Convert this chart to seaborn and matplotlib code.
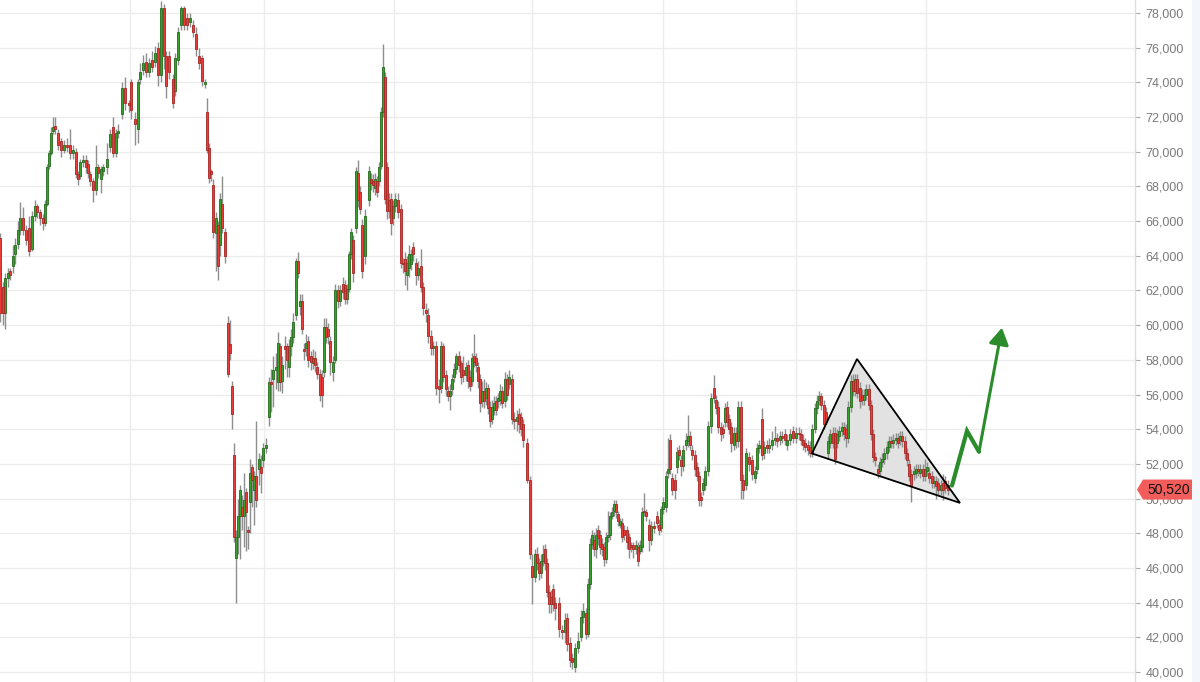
import numpy as np
import matplotlib
matplotlib.use("Agg")
import matplotlib.pyplot as plt
import matplotlib.transforms as mtransforms
from matplotlib.patches import Polygon, Rectangle
import seaborn as sns


# bar number (trading session) of each candle
day = [0, 3, 5, 8, 10, 13, 15, 18, 20, 23,
       26, 29, 32, 35, 37, 40, 43, 45, 47, 49,
       51, 53, 55, 58, 61, 64, 67, 70, 73, 76,
       78, 80, 83, 86, 88, 90, 93, 96, 98, 101,
       103, 107, 110, 113, 116, 118, 122, 125, 129, 131,
       135, 138, 140, 143, 146, 149, 152, 155, 158, 161,
       164, 166, 169, 173, 175, 178, 181, 184, 187, 190,
       193, 196, 199, 202, 205, 207, 209, 211, 213, 216,
       218, 220, 222, 225, 228, 230, 232, 234, 236, 238,
       240, 242, 244, 246, 248, 250, 252, 254, 256, 259,
       261, 263, 266, 269, 271, 273, 276, 278, 280, 282,
       285, 287, 289, 291, 293, 296, 298, 300, 302, 304,
       306, 308, 311, 313, 315, 317, 320, 322, 324, 326,
       328, 330, 333, 335, 338, 340, 343, 345, 347, 349,
       351, 353, 356, 358, 360, 362, 365, 369, 371, 373,
       375, 377, 379, 381, 383, 385, 387, 389, 391, 393,
       395, 398, 401, 403, 405, 407, 409, 411, 413, 416,
       418, 421, 423, 426, 428, 431, 433, 436, 439, 441,
       443, 446, 448, 450, 452, 454, 456, 459, 461, 463,
       466, 468, 470, 472, 474, 476, 478, 480, 482, 484,
       486, 488, 490, 492, 494, 496, 498, 500, 502, 505,
       507, 509, 512, 514, 517, 519, 521, 523, 527, 530,
       532, 535, 537, 539, 541, 543, 545, 547, 549, 551,
       553, 555, 559, 562, 565, 567, 570, 572, 575, 578,
       581, 583, 586, 588, 590, 592, 594, 596, 598, 600,
       602, 604, 606, 608, 610, 612, 614, 616, 618, 620,
       622, 624, 627, 629, 631, 633, 636, 638, 640, 642,
       644, 646, 649, 651, 654, 657, 659, 661, 663, 666,
       668, 670, 672, 675, 677, 679, 681, 683, 686, 688,
       690, 692, 695, 697, 699, 701, 703, 705, 708, 711,
       714, 716, 718, 721, 723, 725, 727, 729, 731, 734,
       736, 738, 741, 743, 746, 749, 752, 755, 757, 759,
       762, 764, 767, 769, 772, 775, 777, 780, 782, 785,
       787, 790, 793, 796, 799,
       801, 803, 805, 808, 810, 812, 815, 817, 819, 821,
       824, 826, 828, 830, 833, 835, 837, 839, 842, 844,
       846, 848, 851, 853, 855, 857, 860, 862, 864, 866,
       869, 871, 873, 875, 878, 880, 882, 884, 887, 889,
       891, 893, 896, 898, 900, 902, 905, 907, 909, 911,
       914, 916, 918, 920, 923, 925, 927, 929, 932, 934,
       936, 938, 941, 943, 945, 948]

# prices in thousands
open_k = [65.0, 62.2, 60.7, 62.7, 63.1, 63.4, 64.1, 64.7, 65.5, 66.2,
          65.5, 65.6, 64.4, 66.3, 66.9, 66.5, 66.2, 65.9, 67.0, 69.2,
          69.9, 71.2, 71.5, 71.1, 70.6, 70.1, 70.4, 70.4, 69.9, 70.0,
          68.7, 68.6, 69.4, 69.5, 69.3, 68.7, 68.3, 67.8, 69.1, 68.4,
          68.9, 69.1, 70.3, 71.4, 69.9, 71.1, 72.2, 73.7, 72.8, 74.0,
          71.9, 71.3, 74.2, 74.7, 75.2, 74.6, 75.3, 75.2, 76.0, 74.4,
          78.3, 75.5, 75.5, 74.2, 73.5, 75.3, 77.3, 78.3, 77.7, 77.5,
          77.3, 76.8, 75.5, 75.4, 73.9, 72.3, 70.2, 68.9, 68.1, 65.3,
          65.8, 64.6, 67.0, 65.4, 60.1, 58.9, 56.5, 52.5, 46.6, 47.8,
          49.0, 49.5, 49.0, 50.4, 48.2, 49.8, 51.8, 50.5, 51.3, 51.7,
          51.8, 52.2, 52.9, 54.7, 56.7, 56.9, 57.4, 56.7, 58.8, 56.8,
          58.8, 58.8, 57.6, 58.8, 59.3, 60.6, 63.7, 61.1, 61.4, 58.6,
          58.7, 59.1, 58.2, 57.8, 58.1, 57.6, 57.2, 57.0, 57.3, 59.9,
          59.8, 59.1, 57.3, 58.0, 62.0, 61.4, 62.4, 62.3, 61.5, 62.1,
          64.1, 64.9, 65.6, 68.8, 67.7, 65.8, 64.0, 67.2, 68.4, 68.3,
          67.9, 68.3, 68.3, 69.2, 72.3, 74.3, 69.1, 66.6, 67.3, 66.2,
          66.9, 67.2, 66.7, 63.6, 63.8, 62.9, 63.3, 63.5, 64.5, 63.6,
          62.9, 63.4, 62.2, 60.9, 60.6, 59.4, 58.7, 58.8, 56.5, 56.4,
          58.8, 57.1, 56.2, 55.9, 56.3, 57.0, 57.5, 58.2, 57.8, 57.4,
          57.1, 57.7, 57.0, 56.8, 58.2, 58.1, 57.6, 56.9, 55.6, 56.2,
          55.8, 56.4, 55.3, 54.6, 55.1, 55.6, 55.6, 55.7, 56.2, 55.6,
          56.9, 56.6, 56.9, 54.6, 54.5, 54.9, 54.7, 54.3, 53.2, 51.1,
          46.1, 45.5, 46.8, 46.3, 45.7, 46.4, 47.1, 46.3, 44.6, 43.9,
          44.8, 44.0, 44.0, 42.4, 42.3, 43.1, 41.7, 40.8, 40.3, 41.4,
          42.0, 43.2, 43.4, 42.2, 45.1, 47.4, 47.6, 47.1, 48.2, 47.9,
          47.4, 47.2, 46.5, 47.8, 47.9, 49.0, 49.3, 49.7, 49.1, 48.5,
          48.6, 48.2, 48.2, 47.8, 47.3, 47.3, 47.1, 47.2, 47.0, 47.2,
          49.3, 49.2, 48.5, 47.6, 48.4, 49.0, 48.5, 48.3, 49.4, 49.5,
          51.5, 53.4, 51.2, 51.1, 51.8, 52.8, 52.2, 51.9, 53.1, 53.3,
          53.6, 52.8, 52.5, 51.8, 51.3, 50.1, 50.5, 50.8, 51.6, 54.2,
          56.4, 55.7, 55.3, 54.1, 54.0, 54.4, 55.3, 54.6, 54.1, 53.1,
          53.8, 53.3, 55.3, 51.1, 50.8, 52.4, 52.2, 51.2, 51.7, 52.9,
          54.6, 52.6, 53.1, 52.9, 53.1, 53.4, 53.5, 53.4, 53.6, 53.7,
          53.1, 53.4, 53.9, 53.5, 53.8,
          53.7, 53.4, 53.2, 53.1, 53.0, 52.6, 54.0, 55.2, 55.7, 55.9,
          55.4, 55.0, 52.6, 53.2, 53.8, 53.8, 53.2, 53.6, 53.9, 54.1,
          54.0, 53.5, 55.3, 56.8, 56.2, 56.9, 56.4, 56.0, 55.7, 56.0,
          56.3, 55.4, 53.7, 52.4, 51.7, 51.6, 52.1, 52.3, 52.6, 53.0,
          53.3, 53.2, 53.4, 53.5, 53.4, 53.6, 53.3, 52.6, 52.0, 51.4,
          51.4, 51.5, 51.7, 51.5, 51.7, 51.3, 51.6, 51.5, 51.3, 50.9,
          51.0, 50.9, 50.5, 50.9, 51.0, 50.8]

close_k = [60.7, 60.7, 62.7, 63.0, 62.9, 64.0, 64.6, 65.5, 66.2, 65.5,
           64.9, 64.3, 66.3, 66.9, 66.5, 66.2, 65.9, 67.0, 69.1, 69.9,
           71.1, 71.4, 71.3, 70.4, 70.1, 70.4, 70.3, 69.9, 70.1, 68.7,
           68.4, 69.4, 69.5, 69.1, 68.8, 68.3, 67.8, 69.1, 68.8, 69.0,
           69.1, 69.6, 71.0, 69.9, 71.1, 71.2, 73.7, 72.8, 72.7, 72.4,
           71.6, 74.0, 74.6, 75.1, 74.6, 75.1, 74.9, 75.7, 74.4, 78.3,
           75.5, 73.8, 74.6, 72.8, 75.4, 76.9, 78.3, 77.3, 77.3, 77.7,
           76.9, 75.9, 75.1, 74.1, 74.0, 70.1, 68.5, 68.7, 65.4, 66.2,
           63.4, 67.3, 65.6, 64.0, 57.2, 58.4, 54.9, 47.8, 47.8, 49.0,
           50.5, 49.0, 49.9, 49.2, 48.1, 51.5, 51.1, 51.3, 49.9, 52.3,
           51.5, 52.9, 53.1, 56.7, 56.6, 57.4, 57.6, 59.0, 56.7, 57.7,
           58.6, 58.0, 58.8, 59.3, 60.2, 63.7, 63.0, 61.4, 59.8, 58.5,
           59.0, 58.0, 57.9, 58.1, 57.7, 57.2, 56.0, 56.0, 59.9, 59.3,
           59.4, 57.9, 57.9, 62.0, 61.4, 62.0, 61.9, 61.5, 62.1, 64.1,
           65.4, 63.0, 68.9, 67.2, 66.7, 63.1, 66.3, 68.9, 68.2, 68.1,
           68.4, 67.7, 69.1, 72.3, 74.9, 67.3, 66.6, 67.2, 65.9, 66.9,
           67.3, 66.5, 63.6, 63.5, 63.1, 63.6, 64.1, 64.1, 64.1, 62.9,
           63.3, 62.2, 61.0, 60.7, 59.4, 58.7, 58.8, 56.4, 56.3, 58.8,
           57.0, 56.3, 55.9, 56.2, 56.9, 57.5, 58.2, 57.7, 57.0, 57.1,
           57.6, 56.8, 56.5, 58.1, 57.9, 57.7, 56.8, 55.5, 56.2, 55.6,
           56.4, 55.2, 54.5, 55.3, 55.5, 55.1, 55.8, 56.2, 55.5, 56.9,
           56.0, 57.0, 54.6, 54.5, 54.7, 54.3, 54.0, 53.4, 51.1, 46.8,
           45.5, 46.8, 46.3, 45.7, 46.4, 46.8, 46.3, 44.6, 43.9, 44.3,
           43.9, 43.7, 42.5, 42.3, 43.0, 41.6, 40.7, 40.6, 41.4, 41.8,
           43.2, 43.5, 42.2, 45.1, 47.4, 47.9, 47.1, 47.9, 47.7, 47.2,
           47.1, 46.5, 47.8, 47.9, 49.0, 49.2, 49.7, 49.2, 48.7, 48.7,
           47.8, 47.9, 47.5, 47.1, 47.2, 47.1, 47.3, 46.4, 47.3, 49.2,
           49.2, 49.0, 47.6, 48.4, 48.3, 48.6, 48.2, 49.4, 49.8, 51.3,
           51.7, 51.7, 50.5, 50.5, 52.7, 52.5, 51.9, 52.8, 53.4, 53.6,
           53.1, 52.5, 51.7, 51.3, 49.9, 49.9, 50.9, 51.6, 54.2, 55.8,
           55.8, 55.2, 54.1, 53.7, 53.8, 55.2, 54.4, 54.0, 53.2, 53.8,
           53.3, 55.3, 51.1, 50.5, 52.6, 52.0, 51.4, 51.6, 52.9, 53.1,
           52.5, 53.0, 52.9, 53.1, 53.4, 53.5, 53.3, 53.6, 53.5, 53.4,
           53.4, 53.7, 53.5, 53.8, 53.7,
           53.4, 53.1, 53.0, 52.8, 52.6, 54.0, 55.2, 55.6, 55.9, 55.4,
           54.3, 54.6, 53.3, 53.7, 53.2, 52.3, 53.7, 53.9, 54.1, 53.7,
           53.5, 55.3, 56.8, 56.2, 56.9, 56.1, 55.6, 55.7, 56.0, 56.3,
           55.4, 53.7, 52.4, 52.2, 51.5, 52.1, 52.3, 52.6, 53.0, 53.3,
           53.2, 53.4, 53.5, 53.2, 53.6, 53.3, 52.6, 52.2, 51.3, 50.7,
           51.6, 51.7, 51.6, 51.7, 51.3, 51.7, 51.8, 51.2, 50.9, 51.0,
           50.7, 50.5, 50.8, 50.5, 50.6, 50.52]

high_k = [65.3, 62.5, 63.0, 63.3, 63.3, 64.6, 65.0, 66.0, 67.1, 66.8,
          65.8, 66.3, 66.6, 67.2, 67.0, 66.7, 66.4, 67.2, 69.3, 70.1,
          71.4, 72.0, 72.0, 71.3, 70.8, 70.7, 70.8, 71.3, 70.4, 70.2,
          68.9, 69.6, 69.8, 69.8, 69.5, 68.9, 68.5, 70.4, 69.3, 69.2,
          69.3, 70.5, 71.3, 72.0, 71.3, 71.6, 74.0, 74.3, 73.0, 74.2,
          72.3, 74.2, 75.1, 75.6, 75.7, 75.4, 75.8, 76.1, 76.3, 78.7,
          78.5, 75.8, 75.8, 74.5, 75.7, 77.2, 78.4, 78.4, 78.0, 78.0,
          77.6, 77.2, 76.0, 75.6, 74.2, 73.1, 70.5, 69.0, 68.4, 66.5,
          66.0, 67.6, 68.6, 65.6, 60.5, 60.3, 56.8, 53.2, 48.2, 50.0,
          50.8, 50.2, 51.5, 50.6, 48.4, 52.3, 52.0, 51.6, 54.5, 52.6,
          52.5, 53.2, 53.5, 57.0, 57.5, 58.2, 58.4, 59.6, 59.0, 58.2,
          59.4, 59.0, 59.2, 59.8, 60.7, 63.9, 64.2, 61.8, 61.8, 59.0,
          59.5, 59.4, 58.5, 58.6, 58.5, 57.9, 57.5, 57.4, 60.4, 60.4,
          60.1, 59.4, 58.2, 62.4, 62.3, 62.3, 62.8, 62.6, 62.4, 64.3,
          65.6, 65.2, 69.1, 69.5, 68.0, 66.1, 66.7, 69.2, 68.8, 68.7,
          68.8, 68.6, 69.4, 72.6, 76.2, 74.6, 69.4, 67.6, 67.6, 67.2,
          67.6, 67.6, 67.0, 63.9, 64.2, 64.0, 64.6, 64.4, 64.8, 63.9,
          63.7, 64.4, 62.5, 61.3, 61.0, 59.7, 59.1, 59.1, 56.9, 59.1,
          59.0, 57.4, 56.5, 56.6, 57.2, 57.8, 58.4, 58.5, 58.0, 58.2,
          57.9, 58.0, 57.4, 58.4, 59.5, 58.4, 57.9, 57.2, 56.8, 56.9,
          56.7, 56.6, 55.6, 55.7, 55.9, 55.9, 56.1, 56.6, 56.5, 57.3,
          57.2, 57.4, 57.2, 55.0, 55.1, 55.2, 55.0, 54.6, 53.5, 51.3,
          46.8, 47.1, 47.2, 46.6, 46.8, 47.3, 47.4, 46.6, 45.0, 44.7,
          45.1, 44.3, 44.3, 42.7, 43.4, 43.4, 42.0, 41.1, 41.7, 42.3,
          43.6, 44.0, 43.7, 45.4, 47.7, 48.2, 48.1, 48.3, 48.5, 48.2,
          47.7, 47.5, 48.1, 49.3, 49.2, 49.5, 49.9, 49.9, 49.3, 48.9,
          48.9, 48.5, 48.4, 48.0, 47.5, 47.5, 47.6, 47.5, 47.6, 49.5,
          50.3, 49.4, 48.8, 48.7, 48.7, 49.3, 48.8, 49.6, 50.1, 51.6,
          53.5, 53.7, 51.5, 51.4, 53.0, 53.1, 52.5, 53.1, 53.8, 54.8,
          53.9, 53.1, 52.8, 52.1, 51.6, 50.4, 51.2, 51.9, 54.5, 56.1,
          57.1, 56.0, 55.6, 54.4, 54.3, 55.5, 55.6, 54.9, 54.4, 54.1,
          54.1, 55.6, 55.6, 51.4, 52.9, 52.7, 52.5, 51.9, 53.2, 53.4,
          55.2, 53.3, 53.4, 53.5, 53.9, 54.2, 53.8, 53.9, 53.9, 54.0,
          53.7, 54.0, 54.2, 54.1, 54.1,
          54.0, 53.7, 53.5, 53.4, 53.3, 54.3, 55.5, 56.0, 56.2, 56.1,
          55.7, 55.3, 53.6, 54.0, 54.1, 54.1, 54.0, 54.2, 54.4, 54.4,
          54.3, 55.6, 57.1, 57.2, 57.2, 57.2, 56.7, 56.3, 56.3, 56.6,
          56.6, 55.7, 54.0, 52.7, 52.0, 52.4, 52.6, 52.9, 53.3, 53.6,
          53.6, 53.7, 53.8, 53.8, 53.9, 53.9, 53.6, 52.9, 52.3, 51.7,
          51.9, 52.0, 52.0, 52.0, 52.0, 52.3, 52.1, 51.8, 51.6, 51.3,
          51.3, 51.2, 51.1, 51.4, 51.3, 51.1]

low_k = [60.2, 60.0, 59.8, 62.2, 62.6, 63.0, 63.5, 64.4, 65.2, 65.2,
         64.6, 64.0, 64.3, 66.0, 66.2, 65.8, 65.5, 65.7, 66.9, 69.0,
         69.8, 71.0, 71.0, 70.1, 69.7, 69.9, 70.0, 69.6, 69.6, 68.5,
         68.1, 68.4, 69.1, 68.8, 68.5, 68.0, 67.1, 67.5, 68.5, 67.6,
         68.6, 68.7, 70.0, 69.7, 69.7, 70.8, 71.9, 72.4, 72.3, 71.9,
         70.4, 70.5, 73.9, 74.4, 74.3, 74.3, 74.6, 74.9, 73.8, 74.0,
         74.8, 73.1, 74.2, 72.5, 73.2, 75.0, 77.0, 77.0, 77.0, 77.2,
         76.6, 75.5, 74.8, 73.8, 73.7, 69.9, 68.2, 68.3, 65.0, 63.1,
         62.6, 64.0, 65.3, 63.6, 57.0, 58.0, 54.0, 47.5, 44.0, 46.8,
         46.5, 48.2, 47.2, 47.0, 47.1, 48.0, 49.5, 48.5, 49.5, 50.8,
         50.3, 51.8, 52.6, 54.2, 55.0, 55.3, 56.3, 56.2, 56.2, 56.1,
         57.5, 57.0, 57.0, 58.2, 59.0, 60.3, 62.7, 60.6, 59.5, 58.0,
         58.2, 57.6, 57.4, 57.5, 57.3, 56.9, 55.6, 55.3, 57.0, 59.0,
         58.9, 57.1, 56.8, 57.8, 61.0, 61.1, 61.5, 61.2, 61.2, 61.9,
         63.8, 62.5, 65.3, 66.8, 66.4, 62.7, 63.5, 66.9, 67.8, 67.7,
         67.5, 67.4, 68.0, 69.0, 72.0, 67.0, 66.1, 66.2, 65.2, 65.8,
         66.5, 66.2, 63.3, 63.0, 62.3, 62.0, 62.8, 63.2, 63.7, 62.3,
         62.6, 61.9, 60.6, 60.2, 59.0, 58.3, 58.3, 56.0, 55.5, 56.1,
         56.7, 55.9, 55.6, 55.1, 56.0, 56.7, 57.2, 57.3, 56.6, 56.7,
         56.8, 56.4, 56.2, 56.5, 57.6, 57.3, 56.4, 55.0, 55.3, 55.2,
         55.4, 54.9, 54.1, 54.3, 54.8, 54.8, 55.2, 55.4, 55.2, 55.3,
         55.7, 56.3, 54.3, 54.0, 53.9, 53.8, 53.6, 53.0, 50.9, 46.5,
         43.9, 45.2, 45.9, 45.3, 45.4, 46.1, 45.9, 44.3, 43.4, 43.4,
         43.5, 43.0, 42.0, 41.9, 41.7, 41.2, 40.3, 40.2, 40.0, 41.1,
         41.8, 42.8, 41.9, 42.0, 44.8, 47.1, 46.7, 46.6, 47.3, 46.8,
         46.7, 46.1, 46.3, 47.5, 47.6, 48.8, 49.0, 48.9, 48.4, 48.3,
         47.5, 47.6, 47.1, 46.6, 46.9, 46.6, 46.8, 46.1, 46.8, 46.9,
         49.0, 48.7, 47.0, 47.3, 48.0, 48.3, 47.9, 48.1, 49.1, 49.2,
         51.2, 51.4, 50.2, 50.0, 51.5, 52.2, 51.3, 51.6, 52.8, 53.0,
         52.8, 52.2, 51.3, 51.0, 49.6, 49.6, 50.2, 50.5, 51.3, 53.8,
         55.5, 54.9, 53.8, 53.3, 53.5, 54.1, 54.1, 53.7, 52.7, 52.8,
         52.9, 53.0, 50.0, 50.0, 50.5, 51.6, 51.1, 50.9, 51.4, 52.6,
         52.2, 52.3, 52.6, 52.6, 52.8, 53.1, 53.0, 53.1, 53.2, 53.1,
         52.8, 53.1, 53.2, 53.2, 53.4,
         53.1, 52.8, 52.7, 52.5, 52.4, 52.4, 53.8, 54.9, 55.4, 55.1,
         54.0, 54.3, 52.3, 52.9, 52.9, 52.0, 52.9, 53.3, 53.6, 53.4,
         53.0, 53.2, 55.0, 55.9, 55.9, 55.8, 55.2, 55.4, 55.4, 55.7,
         55.1, 53.4, 52.1, 51.9, 51.2, 51.3, 51.8, 52.0, 52.3, 52.7,
         52.9, 52.9, 53.1, 52.9, 53.1, 53.0, 52.3, 51.9, 51.0, 49.8,
         51.1, 51.2, 51.3, 51.2, 51.0, 51.0, 51.3, 50.9, 50.6, 50.6,
         50.0, 50.2, 50.2, 49.9, 50.3, 50.2]

last_price = 50520
month_starts = [130, 264, 394, 532, 663, 796, 926]

# drawn pattern: descending triangle and projected move
wedge_day = [812, 857, 960]
wedge_k = [52.6, 58.05, 49.75]
path_day = [952, 967, 979, 1002]
path_k = [50.75, 53.9, 52.7, 59.85]

UP = "#38a02c"
UP_EDGE = "#246b1c"
DOWN = "#ea3c38"
DOWN_EDGE = "#a82522"
WICK = "#8e8e8e"
ARROW = "#2a8c2a"

sns.set_theme(style="white")
plt.rcParams["font.family"] = ["Liberation Sans", "DejaVu Sans"]

d = np.array(day, dtype=float)
o = np.array(open_k) * 1000
c = np.array(close_k) * 1000
h = np.array(high_k) * 1000
l = np.array(low_k) * 1000
up = c >= o
bottom = np.minimum(o, c)
height = np.maximum(np.abs(c - o), 60)

fig = plt.figure(figsize=(12, 6.82), dpi=100)
fig.patch.set_facecolor("white")
ax = fig.add_axes([0, 0, 1135 / 1200, 1])
ax.set_facecolor("white")

ax.set_xlim(0, 1135)
ax.set_ylim(39423, 78750)

# grid
ax.set_yticks(np.arange(40000, 78001, 2000))
ax.set_xticks(month_starts)
ax.grid(True, color="#ececec", lw=1)
ax.set_axisbelow(True)

# triangle fill behind candles
tri = list(zip(wedge_day, np.array(wedge_k) * 1000))
ax.add_patch(Polygon(tri, closed=True, facecolor="#e2e2e2", edgecolor="none", zorder=1.5))

# candles
ax.vlines(d, l, h, color=WICK, lw=1.0, zorder=2)
ax.bar(d[up], height[up], bottom=bottom[up], width=2.5, color=UP,
       edgecolor=UP_EDGE, linewidth=0.6, zorder=3)
ax.bar(d[~up], height[~up], bottom=bottom[~up], width=2.5, color=DOWN,
       edgecolor=DOWN_EDGE, linewidth=0.6, zorder=3)

# triangle outline on top
ax.add_patch(Polygon(tri, closed=True, facecolor="none", edgecolor="black",
                     lw=1.3, zorder=4))

# projected move
pk = np.array(path_k) * 1000
sns.lineplot(x=path_day[:3], y=pk[:3], sort=False, color=ARROW, lw=3,
             ax=ax, zorder=5, solid_joinstyle="miter")
ax.annotate("", xy=(path_day[3], pk[3]), xytext=(path_day[2], pk[2]),
            arrowprops=dict(arrowstyle="-|>,head_length=0.5,head_width=0.3",
                            mutation_scale=20, lw=2.2, color=ARROW,
                            shrinkA=0, shrinkB=0), zorder=5)

# axes styling
for side in ["top", "left", "bottom"]:
    ax.spines[side].set_visible(False)
ax.spines["right"].set_color("#dddddd")
ax.spines["right"].set_linewidth(1)
ax.yaxis.tick_right()
ax.yaxis.set_major_formatter(plt.FuncFormatter(lambda v, p: f"{v:,.0f}"))
ax.tick_params(axis="y", which="both", right=True, left=False, length=3.5,
               width=0.8, color="#aaaaaa", labelcolor="#7a7a7a",
               labelsize=9, pad=4)
ax.tick_params(axis="x", length=0, labelbottom=False)

# last price tag
trans = mtransforms.blended_transform_factory(ax.transAxes, ax.transData)
half = 577
x0, x1, x2 = 1137 / 1135, 1143 / 1135, 1192 / 1135
tag = Polygon([(x0, last_price), (x1, last_price + half), (x2, last_price + half),
               (x2, last_price - half), (x1, last_price - half)], closed=True,
              transform=trans, facecolor="#f25c5a", edgecolor="none",
              clip_on=False, zorder=10)
ax.add_patch(tag)
ax.text(1147 / 1135, last_price, f"{last_price:,}", transform=trans,
        va="center", ha="left", fontsize=10, color="#111111",
        clip_on=False, zorder=11)

# right edge strip
fig.patches.append(Rectangle((1192 / 1200, 0), 8 / 1200, 1, transform=fig.transFigure,
                             facecolor="#f3f6fb", edgecolor="none", zorder=0))

fig.savefig("out.png", dpi=100)
